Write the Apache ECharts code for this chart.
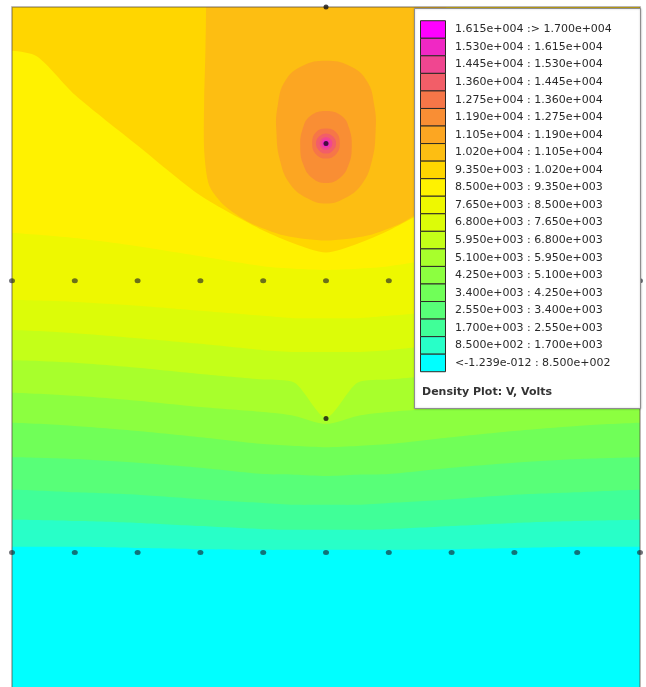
<!DOCTYPE html>
<html>
<head>
<meta charset="utf-8">
<script src="https://cdn.jsdelivr.net/npm/echarts@6/dist/echarts.min.js"></script>
<style>
  html, body { margin: 0; padding: 0; background: #ffffff; }
  #chart { width: 646px; height: 687px; }
</style>
</head>
<body>
<div id="chart"></div>
<script>
// Band limits of the density plot (Volts), lowest first, and the fill colour of each band
const levels = [-1.239e-12, 850, 1700, 2550, 3400, 4250, 5100, 5950, 6800, 7650, 8500,
                9350, 10200, 11050, 11900, 12750, 13600, 14450, 15300, 16150, 17000];
const bandColors = ['#00ffff', '#28ffc8', '#40ff98', '#58ff78', '#70ff58', '#8cff40',
                    '#a8ff2c', '#c4ff18', '#dcfc08', '#eef800', '#fff200', '#ffd600',
                    '#fdbe12', '#fca622', '#f98e34', '#f67648', '#f25e68', '#f04690',
                    '#f028c4', '#ff00ff'];

// Domain extent (mm)
const xRange = [0, 100];
const yRange = [-21.5, 87.1];

// Equipotentials that run across the whole width: height (mm) at each column
const xCols = [0, 10, 20, 30, 40, 45, 50, 55, 60, 70, 80, 90, 100];
const v850  = [0.9, 0.9, 0.7, 0.5, 0.4, 0.4, 0.4, 0.4, 0.4, 0.5, 0.7, 0.9, 0.9];
const v1700 = [5.2, 5.0, 4.7, 4.2, 3.7, 3.6, 3.6, 3.6, 3.7, 4.2, 4.7, 5.0, 5.2];
const v2550 = [10.0, 9.6, 9.2, 8.5, 7.9, 7.6, 7.6, 7.6, 7.9, 8.5, 9.2, 9.6, 10.0];
const v3400 = [15.2, 14.9, 14.3, 13.5, 12.5, 12.4, 12.2, 12.4, 12.5, 13.5, 14.3, 14.9, 15.2];
const v4250 = [20.7, 20.2, 19.4, 18.4, 17.3, 17.0, 16.8, 17.0, 17.3, 18.4, 19.4, 20.2, 20.7];
const v5100 = [25.5, 25.0, 24.2, 23.2, 22.4, 21.8, 20.5, 21.8, 22.4, 23.2, 24.2, 25.0, 25.5];
const v5950 = [30.7, 30.3, 29.5, 28.5, 27.6, 27.1, 21.5, 27.1, 27.6, 28.5, 29.5, 30.3, 30.7];
const v6800 = [35.5, 35.0, 34.2, 33.3, 32.3, 32.0, 32.0, 32.0, 32.3, 33.3, 34.2, 35.0, 35.5];
const v7650 = [40.3, 40.0, 39.4, 38.6, 37.8, 37.4, 37.4, 37.4, 37.8, 38.6, 39.4, 40.0, 40.3];
const v8500 = [51.0, 50.2, 48.9, 47.3, 45.7, 45.3, 45.1, 45.3, 45.7, 47.3, 48.9, 50.2, 51.0];
const x9350 = [0, 4, 10, 20, 30, 40, 45, 50, 55, 60, 70, 80, 90, 96, 100];
const v9350 = [80.1, 79.2, 73.1, 65.0, 57.0, 51.4, 49.3, 47.9, 49.3, 51.4, 57.0, 65.0, 73.1, 79.2, 80.1];

// 10200 V contour: open to the top edge
const c10200 = [[30.9, 87.1], [30.8, 80.1], [30.6, 72.2], [30.6, 64.2], [31.4, 58.6], [33.8, 55.4],
                [37.8, 52.7], [43.4, 50.6], [50, 49.8], [56.6, 50.6], [62.2, 52.7], [66.2, 55.4],
                [68.6, 58.6], [69.4, 64.2], [69.4, 72.2], [69.2, 80.1], [69.1, 87.1]];
// Closed contours around the upper electrode
const c11050 = [[50, 78.5], [53.7, 77.7], [56.5, 75.3], [57.7, 71.3], [57.9, 67.3], [57.3, 62.5],
                [55.7, 58.8], [52.9, 56.5], [50, 55.7], [47.1, 56.5], [44.3, 58.8], [42.7, 62.5],
                [42.1, 67.3], [42.3, 71.3], [43.5, 75.3], [46.3, 77.7]];
const c11900 = [[50, 70.5], [52.5, 69.7], [53.7, 67.7], [54.1, 64.8], [53.6, 61.9], [52.2, 59.8],
                [50, 59.0], [47.8, 59.8], [46.4, 61.9], [45.9, 64.8], [46.3, 67.7], [47.5, 69.7]];
const c12750 = [[50, 67.7], [51.6, 67.1], [52.2, 65.3], [51.6, 63.6], [50, 62.9], [48.4, 63.6], [47.8, 65.3], [48.4, 67.1]];
const c13600 = [[50, 66.9], [51.1, 66.4], [51.6, 65.3], [51.1, 64.2], [50, 63.7], [48.9, 64.2], [48.4, 65.3], [48.9, 66.4]];
const c14450 = [[50, 66.3], [50.7, 66.0], [51.0, 65.3], [50.7, 64.6], [50, 64.3], [49.3, 64.6], [49.0, 65.3], [49.3, 66.0]];
const c15300 = [[50, 65.9], [50.45, 65.75], [50.6, 65.3], [50.45, 64.85], [50, 64.7], [49.55, 64.85], [49.4, 65.3], [49.55, 65.75]];
const c16150 = [[50, 65.65], [50.25, 65.55], [50.35, 65.3], [50.25, 65.05], [50, 64.95], [49.75, 65.05], [49.65, 65.3], [49.75, 65.55]];

// Mesh points drawn on the plot (mm)
const rowX = [0, 10, 20, 30, 40, 50, 60, 70, 80, 90, 100];
const groundRowY = 0;
const middleRowY = 43.4;
const probePoints = [[50, 65.3], [50, 21.4], [50, 87.1]];

const legendTitle = 'Density Plot: V, Volts';

// ---------------------------------------------------------------------------

function femmExp(v) {
  const s = v.toExponential(3);
  const parts = s.split('e');
  const sign = parts[1][0];
  return parts[0] + 'e' + sign + parts[1].slice(1).padStart(3, '0');
}
function bandLabel(b) {
  const lo = femmExp(levels[b]);
  const hi = femmExp(levels[b + 1]);
  if (b === bandColors.length - 1) return lo + ' :> ' + hi;
  if (b === 0) return '<' + lo + ' : ' + hi;
  return lo + ' : ' + hi;
}

// Regions painted from the lowest level upwards
const regions = [];
[v850, v1700, v2550, v3400, v4250, v5100, v5950, v6800, v7650, v8500].forEach((ys, i) => {
  regions.push({ kind: 'above', band: i + 1, pts: xCols.map((x, j) => [x, ys[j]]) });
});
regions.push({ kind: 'above', band: 11, pts: x9350.map((x, j) => [x, v9350[j]]) });
regions.push({ kind: 'open', band: 12, pts: c10200 });
[c11050, c11900, c12750, c13600, c14450, c15300, c16150].forEach((pts, i) => {
  regions.push({ kind: 'closed', band: 13 + i, pts: pts });
});

function renderRegion(params, api) {
  const r = regions[params.dataIndex];
  let pts = r.pts.map(p => api.coord(p));
  const cs = params.coordSys;
  const top = cs.y - 60;
  if (r.kind === 'above') {
    const first = pts[0], last = pts[pts.length - 1];
    pts = [[first[0] - 40, first[1]]].concat(pts, [[last[0] + 40, last[1]], [last[0] + 40, top], [first[0] - 40, top]]);
  } else if (r.kind === 'open') {
    const first = pts[0], last = pts[pts.length - 1];
    pts = [[first[0], top]].concat(pts, [[last[0], top]]);
  }
  return {
    type: 'group',
    clipPath: { type: 'rect', shape: { x: cs.x, y: cs.y, width: cs.width, height: cs.height } },
    children: [{
      type: 'polygon',
      z2: params.dataIndex,
      shape: { points: pts, smooth: r.kind === 'closed' ? 0.45 : 0.25 },
      style: { fill: bandColors[r.band], stroke: null }
    }]
  };
}

function renderFrame(params, api) {
  const pts = [[xRange[0], yRange[0]], [xRange[0], yRange[1]], [xRange[1], yRange[1]], [xRange[1], yRange[0]]]
    .map(p => api.coord(p));
  return {
    type: 'polyline',
    shape: { points: pts },
    style: { stroke: 'rgba(80,70,60,0.5)', lineWidth: 1.5, fill: null }
  };
}

const dots = [];
rowX.forEach(x => dots.push([x, groundRowY]));
rowX.forEach(x => dots.push([x, middleRowY]));

// Legend box built from the band table
const legendEls = [];
const lgX = 414.5, lgY = 8.5, lgW = 226, lgH = 400;
legendEls.push({
  type: 'rect', z: 100,
  shape: { x: lgX, y: lgY, width: lgW, height: lgH },
  style: { fill: '#ffffff', stroke: '#8e8e8e', lineWidth: 1, shadowBlur: 2, shadowColor: 'rgba(0,0,0,0.25)' }
});
const rowH = 17.55, row0 = 29.5;
for (let i = 0; i < bandColors.length; i++) {
  const b = bandColors.length - 1 - i;
  const cy = row0 + rowH * i;
  legendEls.push({
    type: 'rect', z: 101,
    shape: { x: 420.5, y: cy - rowH / 2, width: 25, height: rowH },
    style: { fill: bandColors[b], stroke: '#2e2a26', lineWidth: 1 }
  });
  legendEls.push({
    type: 'text', z: 101, x: 455, y: cy,
    style: { text: bandLabel(b), font: '11px "DejaVu Sans"', fill: '#2a2a2a',
             textAlign: 'left', textVerticalAlign: 'middle', verticalAlign: 'middle' }
  });
}
legendEls.push({
  type: 'text', z: 101, x: 422, y: 392,
  style: { text: legendTitle, font: 'bold 11px "DejaVu Sans"', fill: '#333333',
           textAlign: 'left', textVerticalAlign: 'middle', verticalAlign: 'middle' }
});

const chart = echarts.init(document.getElementById('chart'), null, { renderer: 'canvas' });
chart.setOption({
  animation: false,
  backgroundColor: '#ffffff',
  grid: { left: 12, right: 6, top: 7, bottom: 0, show: true, backgroundColor: bandColors[0], borderWidth: 0 },
  xAxis: { type: 'value', min: xRange[0], max: xRange[1], show: false },
  yAxis: { type: 'value', min: yRange[0], max: yRange[1], show: false },
  series: [
    {
      type: 'custom', renderItem: renderRegion, z: 2,
      data: regions.map(r => r.pts[0]), silent: true
    },
    {
      type: 'custom', renderItem: renderFrame, z: 5,
      data: [[xRange[0], yRange[0]]], silent: true
    },
    {
      type: 'scatter', z: 6, silent: true,
      symbol: 'circle', symbolSize: [6, 5],
      itemStyle: { color: 'rgba(28,30,40,0.78)' },
      data: dots
    },
    {
      type: 'scatter', z: 7, silent: true,
      symbol: 'circle', symbolSize: 5,
      itemStyle: { color: '#141010' },
      data: probePoints
    }
  ],
  graphic: { elements: legendEls }
});
</script>
</body>
</html>
